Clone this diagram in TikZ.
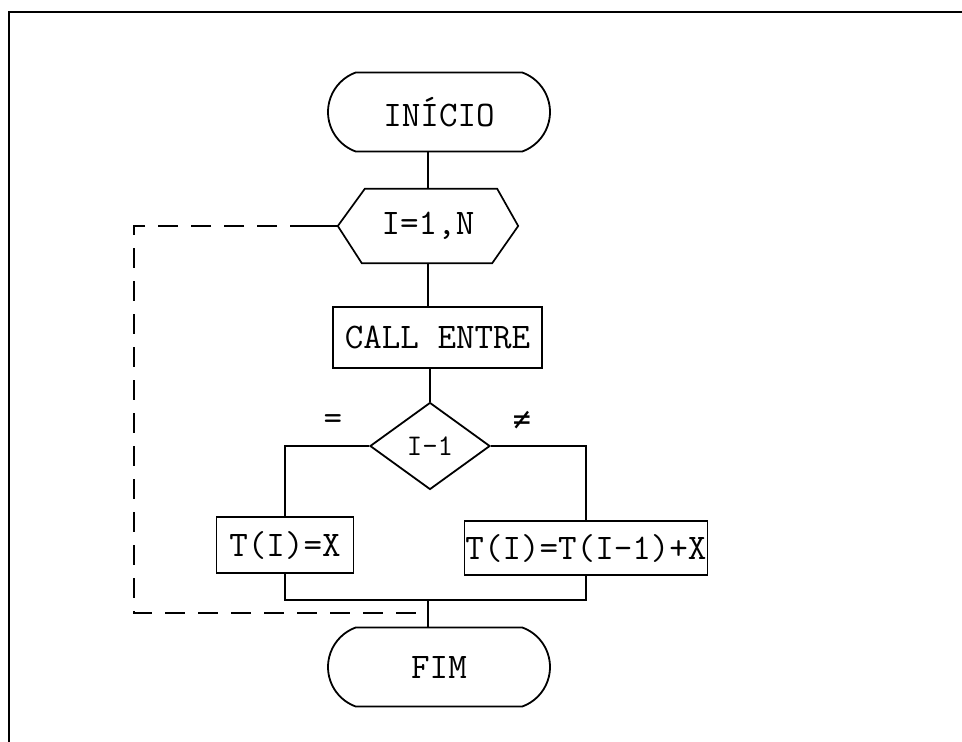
\documentclass[tikz,border=0pt]{standalone}
\usepackage{fontspec}
\newfontfamily\tw{Latin Modern Mono}
\newfontfamily\sym{DejaVu Sans Mono}
\usetikzlibrary{shapes.geometric,shapes.misc,calc}
\begin{document}
\begin{tikzpicture}[x=1pt,y=-1pt,
  font=\tw\fontsize{36}{42}\selectfont,
  line/.style={line width=1.5pt},
  dline/.style={line width=1.4pt, dash pattern=on 20pt off 13pt},
  term/.style={rounded rectangle, rounded rectangle arc length=140, draw, line width=1.8pt, minimum width=222pt, minimum height=79pt, inner sep=0pt},
  box/.style={rectangle, draw, line width=1.4pt, inner sep=2pt},
  dec/.style={diamond, draw, line width=1.8pt, minimum width=120pt, minimum height=87pt, inner sep=0pt, font=\tw\fontsize{30}{34}\selectfont}
]
\useasboundingbox (0,0) rectangle (962,742);
% frame
\draw[line width=2.5pt] (9,742) -- (9,12) -- (962,12);
% nodes
\node[term] (start) at (439,112) {INÍCIO};
\node[minimum width=180pt, minimum height=74pt, inner sep=0pt] (loop) at (428,226) {I=1,N};
\draw[line width=1.7pt] (loop.west) -- ($(loop.north west)+(27,0)$) -- ($(loop.north east)+(-21,0)$) -- (loop.east) -- ($(loop.south east)+(-26,0)$) -- ($(loop.south west)+(24,0)$) -- cycle;
\node[box, minimum width=209pt, minimum height=61pt] (call) at (437.5,337.5) {CALL ENTRE};
\node[dec] (d) at (430,446) {I-1};
\node[box, minimum width=137pt, minimum height=56pt] (lb) at (285,545) {T(I)=X};
\node[box, minimum width=236pt, minimum height=54pt, inner xsep=1pt] (rb) at (586,548) {T(I)=T(I-1)+X};
\node[term] (end) at (439,667) {FIM};
\node (eq) at (333,422) {=};
\node[font=\sym\fontsize{30}{34}\selectfont] (ne) at (522,420) {≠};
% connectors
\draw[line] (start.south -| loop.north) -- (loop.north);
\draw[line] (loop.south) -- (loop.south |- call.north);
\draw[line] (call.south -| d.north) -- (d.north);
\draw[line] (d.west) -| (lb.north);
\draw[line] (d.east) -| (rb.north);
\coordinate (m) at (428,600);
\draw[line] (lb.south) |- (m) -| (rb.south);
\draw[line] (m) -- (m |- end.north);
% loop-back (dashed)
\coordinate (s) at (310,226);
\coordinate (d1) at (134,226);
\coordinate (d2) at (134,613);
\coordinate (d3) at (428,613);
\draw[line] (loop.west) -- (s);
\draw[dline] (s) -- (d1) -- (d2) -- (d3);
\end{tikzpicture}
\end{document}
